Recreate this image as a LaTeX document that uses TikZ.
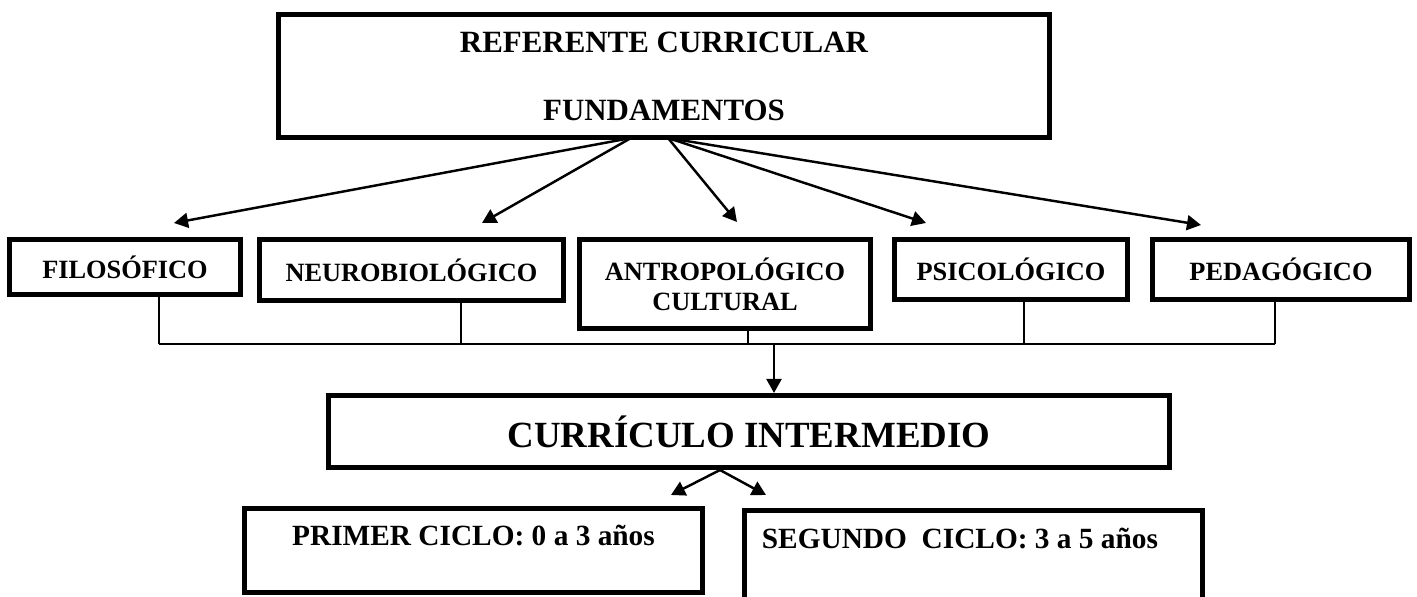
\documentclass[tikz,border=0pt]{standalone}
\usepackage{fontspec}
\setmainfont{Liberation Serif}
\usetikzlibrary{
    arrows.meta,
    positioning,
    calc
}
\tikzset{
    % Boxes
    box/.style={draw,line width=0.1cm,inner sep=0pt},
    box text/.style={inner sep=0pt,font=\fontsize{16.7}{20}\selectfont\bfseries},
    %
    % Arrows
    arrow tip/.tip={Triangle[length=8pt,width=8.5pt]},
    arr/.style={-{arrow tip},line width=1.4pt},
    link/.style={line width=0.7pt}
}
\tikzstyle{every node}=[font=\fontsize{15}{17}\selectfont\bfseries]

\begin{document}
\begin{tikzpicture}[x=0.02cm,y=-0.02cm]
        \useasboundingbox (0,0) rectangle (1417,597);

        \node[box,minimum width=15.42cm,minimum height=2.46cm,align=center,font=\fontsize{17.6}{38.7}\selectfont\bfseries] (ref) at (664,76) {REFERENTE CURRICULAR\\FUNDAMENTOS};

        \node[box,minimum width=4.62cm,minimum height=1.1cm] (filo) at (125,267) {FILOSÓFICO};
        \node[box,minimum width=6.08cm,minimum height=1.22cm] (neuro) at (411.5,270) {NEUROBIOLÓGICO};
        \node[box,minimum width=5.82cm,minimum height=1.78cm,align=center] (antro) at (725,284) {ANTROPOLÓGICO\\CULTURAL};
        \node[box,minimum width=4.66cm,minimum height=1.2cm] (psico) at (1011,269.5) {PSICOLÓGICO};
        \node[box,minimum width=5.14cm,minimum height=1.2cm] (peda) at (1281,269.5) {PEDAGÓGICO};

        \node[box,minimum width=16.82cm,minimum height=1.44cm,font=\fontsize{21}{25}\selectfont\bfseries] (curri) at (749,431.5) {CURRÍCULO INTERMEDIO};

        \node[box,minimum width=9.16cm,minimum height=1.68cm] (ciclo1) at (473.5,550.5) {};
        \node[box text,below=0.37cm of ciclo1.north] (ciclo1 text) {PRIMER CICLO: 0 a 3 años};
        \node[box,minimum width=9.16cm,minimum height=1.89cm] (ciclo2) at (973.5,557.75) {};
        \node[box text,below right=0.39cm and 0.39cm of ciclo2.north west] (ciclo2 text) {SEGUNDO\ \ CICLO: 3 a 5 años};

        % fan out of the top box
        \coordinate (fan a) at (631,138);
        \coordinate (fan b) at (668,138);
        \coordinate (to filo) at (174,223);
        \coordinate (to neuro) at (482,223);
        \coordinate (to antro) at (737,222);
        \coordinate (to psico) at (926,223);
        \coordinate (to peda) at (1201,225);
        \draw[arr] (fan a) -- (to filo);
        \draw[arr] (fan a) -- (to neuro);
        \draw[arr] (fan b) -- (to antro);
        \draw[arr] (fan b) -- (to psico);
        \draw[arr] (fan b) -- (to peda);

        % collecting line
        \coordinate (bus west) at (159,344);
        \coordinate (bus east) at (1275,344);
        \draw[link] (bus west) -- (bus east);
        \foreach \name/\pos in {filo/.644,neuro/.66,antro/.578,psico/.555,peda/.477}{
            \coordinate (foot) at ($(\name.south west)!\pos!(\name.south east)$);
            \draw[link] (foot) -- (foot |- bus west);
        }
        \coordinate (down) at (774,344);
        \draw[arr] (down) -- (down |- curri.north);

        % the two cycles
        \coordinate (split) at (720,470);
        \coordinate (to ciclo1) at (671,495);
        \coordinate (to ciclo2) at (766,495);
        \draw[arr] (split) -- (to ciclo1);
        \draw[arr] (split) -- (to ciclo2);
\end{tikzpicture}
\end{document}
